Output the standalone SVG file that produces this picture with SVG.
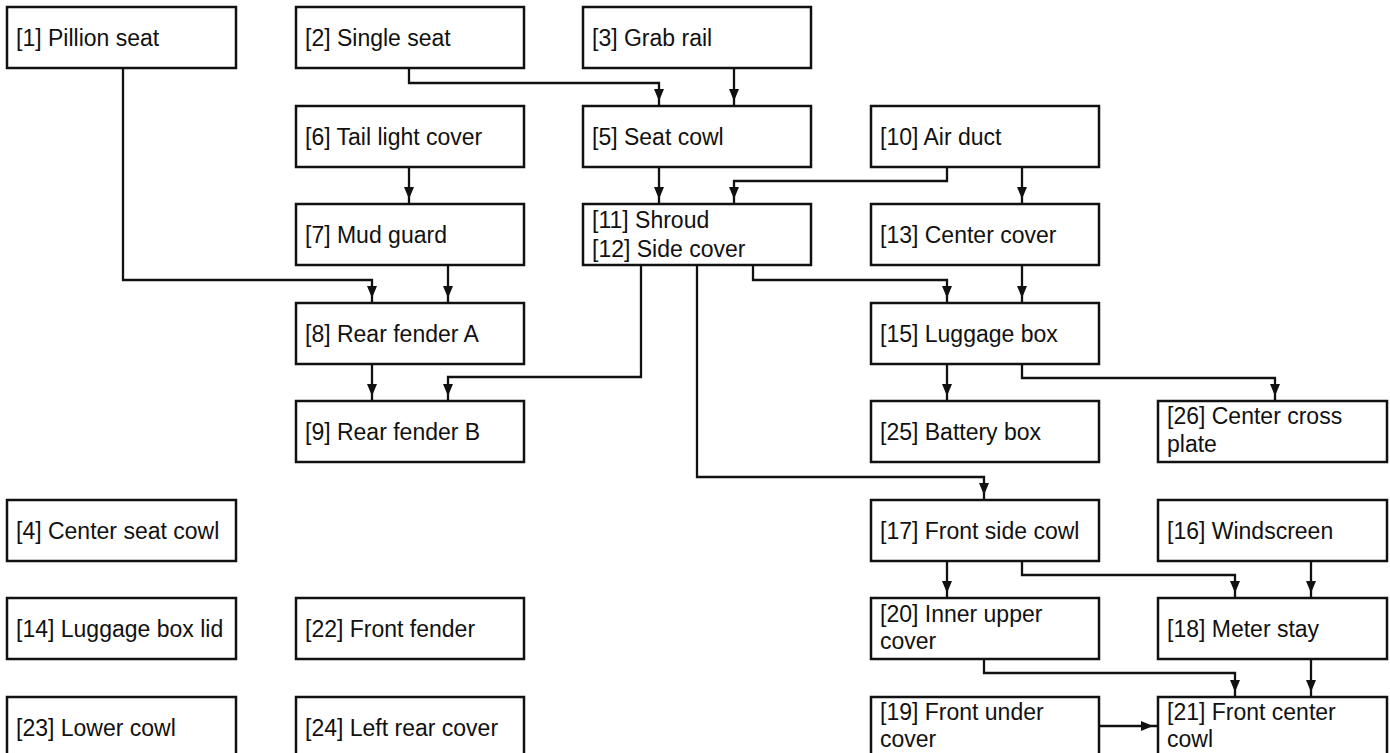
<svg xmlns="http://www.w3.org/2000/svg" width="1390" height="753" viewBox="0 0 1390 753">
<style>
.box{fill:#fff;stroke:#111;stroke-width:2.5}
.t{font-family:"Liberation Sans",Arial,sans-serif;font-size:23px;fill:#111}
.c{fill:none;stroke:#111;stroke-width:2.3;marker-end:url(#ah)}
</style>
<defs>
<marker id="ah" markerUnits="userSpaceOnUse" markerWidth="20" markerHeight="12" refX="17" refY="5" orient="auto" overflow="visible">
<path d="M0,0 L12,5 L0,10 z" fill="#111"/>
</marker>
</defs>
<rect width="1390" height="753" fill="#fff"/>
<g id="connectors">
<path class="c" d="M123,68 V280 H372 V303"/>
<path class="c" d="M448,265 V303"/>
<path class="c" d="M409,68 V83 H659 V106"/>
<path class="c" d="M734,68 V106"/>
<path class="c" d="M409,167 V204"/>
<path class="c" d="M659,167 V204"/>
<path class="c" d="M947,167 V181 H734 V204"/>
<path class="c" d="M1022,167 V204"/>
<path class="c" d="M641,265 V377 H448 V401"/>
<path class="c" d="M372,364 V401"/>
<path class="c" d="M753,265 V280 H947 V303"/>
<path class="c" d="M697,265 V477 H984 V500"/>
<path class="c" d="M1022,265 V303"/>
<path class="c" d="M947,364 V401"/>
<path class="c" d="M1022,364 V378 H1275 V401"/>
<path class="c" d="M947,561 V598"/>
<path class="c" d="M1022,561 V575 H1235 V598"/>
<path class="c" d="M1311,561 V598"/>
<path class="c" d="M984,659 V673 H1235 V697"/>
<path class="c" d="M1311,659 V697"/>
<path class="c" d="M1098,726 H1158"/>
</g>
<g id="n1"><rect class="box" x="7" y="7" width="229" height="61"/><text class="t" x="16" y="46">[1] Pillion seat</text></g>
<g id="n2"><rect class="box" x="296" y="7" width="228" height="61"/><text class="t" x="305" y="46">[2] Single seat</text></g>
<g id="n3"><rect class="box" x="583" y="7" width="228" height="61"/><text class="t" x="592" y="46">[3] Grab rail</text></g>
<g id="n6"><rect class="box" x="296" y="106" width="228" height="61"/><text class="t" x="305" y="145">[6] Tail light cover</text></g>
<g id="n5"><rect class="box" x="583" y="106" width="228" height="61"/><text class="t" x="592" y="145">[5] Seat cowl</text></g>
<g id="n10"><rect class="box" x="871" y="106" width="228" height="61"/><text class="t" x="880" y="145">[10] Air duct</text></g>
<g id="n7"><rect class="box" x="296" y="204" width="228" height="61"/><text class="t" x="305" y="243">[7] Mud guard</text></g>
<g id="n11"><rect class="box" x="583" y="204" width="228" height="61"/><text class="t" x="592" y="228">[11] Shroud</text><text class="t" x="592" y="257">[12] Side cover</text></g>
<g id="n13"><rect class="box" x="871" y="204" width="228" height="61"/><text class="t" x="880" y="243">[13] Center cover</text></g>
<g id="n8"><rect class="box" x="296" y="303" width="228" height="61"/><text class="t" x="305" y="342">[8] Rear fender A</text></g>
<g id="n15"><rect class="box" x="871" y="303" width="228" height="61"/><text class="t" x="880" y="342">[15] Luggage box</text></g>
<g id="n9"><rect class="box" x="296" y="401" width="228" height="61"/><text class="t" x="305" y="440">[9] Rear fender B</text></g>
<g id="n25"><rect class="box" x="871" y="401" width="228" height="61"/><text class="t" x="880" y="440">[25] Battery box</text></g>
<g id="n26"><rect class="box" x="1158" y="401" width="229" height="61"/><text class="t" x="1167" y="424">[26] Center cross</text><text class="t" x="1167" y="452">plate</text></g>
<g id="n4"><rect class="box" x="7" y="500" width="229" height="61"/><text class="t" x="16" y="539">[4] Center seat cowl</text></g>
<g id="n17"><rect class="box" x="871" y="500" width="228" height="61"/><text class="t" x="880" y="539">[17] Front side cowl</text></g>
<g id="n16"><rect class="box" x="1158" y="500" width="229" height="61"/><text class="t" x="1167" y="539">[16] Windscreen</text></g>
<g id="n14"><rect class="box" x="7" y="598" width="229" height="61"/><text class="t" x="16" y="637">[14] Luggage box lid</text></g>
<g id="n22"><rect class="box" x="296" y="598" width="228" height="61"/><text class="t" x="305" y="637">[22] Front fender</text></g>
<g id="n20"><rect class="box" x="871" y="598" width="228" height="61"/><text class="t" x="880" y="622">[20] Inner upper</text><text class="t" x="880" y="649">cover</text></g>
<g id="n18"><rect class="box" x="1158" y="598" width="229" height="61"/><text class="t" x="1167" y="637">[18] Meter stay</text></g>
<g id="n23"><rect class="box" x="7" y="697" width="229" height="61"/><text class="t" x="16" y="736">[23] Lower cowl</text></g>
<g id="n24"><rect class="box" x="296" y="697" width="228" height="61"/><text class="t" x="305" y="736">[24] Left rear cover</text></g>
<g id="n19"><rect class="box" x="871" y="697" width="228" height="61"/><text class="t" x="880" y="720">[19] Front under</text><text class="t" x="880" y="747">cover</text></g>
<g id="n21"><rect class="box" x="1158" y="697" width="229" height="61"/><text class="t" x="1167" y="720">[21] Front center</text><text class="t" x="1167" y="747">cowl</text></g>
</svg>
